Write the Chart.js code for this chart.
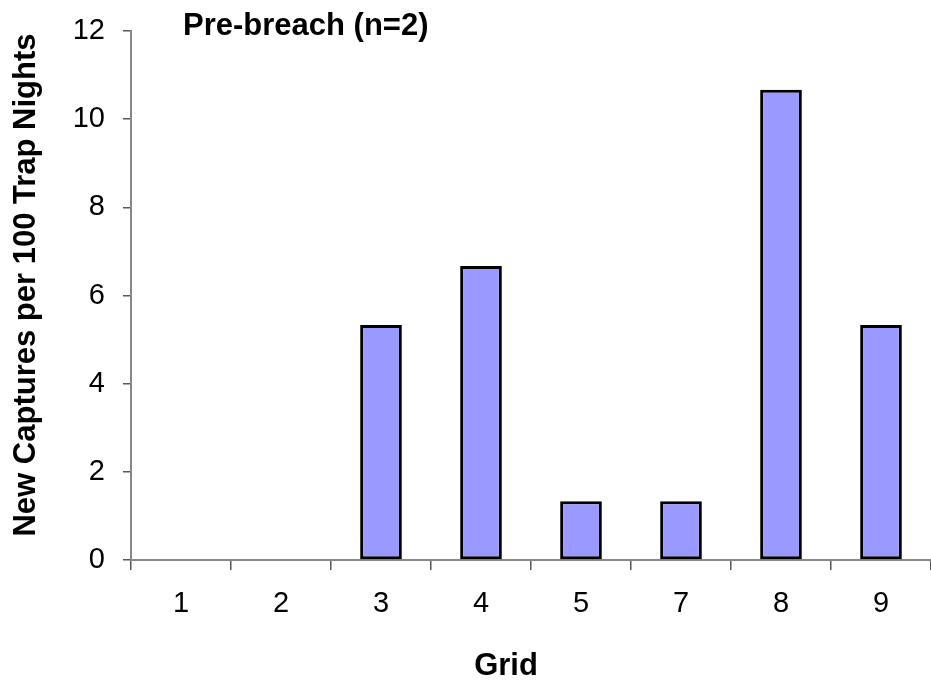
<!DOCTYPE html>
<html>
<head>
<meta charset="utf-8">
<title>Pre-breach (n=2)</title>
<script src="https://cdn.jsdelivr.net/npm/chart.js@4/dist/chart.umd.min.js"></script>
<style>
    html, body { margin: 0; padding: 0; background: #fff; overflow: hidden; }
    #chart-box { width: 931px; height: 681px; }
</style>
</head>
<body>
<div id="chart-box">
    <canvas id="capture-chart" width="931" height="681"></canvas>
</div>
<script>
const gridLabels = ["1", "2", "3", "4", "5", "7", "8", "9"];
const newCaptures = [0, 0, 5.33, 6.67, 1.33, 1.33, 10.67, 5.33];
const yTicks = [0, 2, 4, 6, 8, 10, 12];

const chartTitle = "Pre-breach (n=2)";
const xTitle = "Grid";
const yTitle = "New Captures per 100 Trap Nights";

const fontFamily = "'Liberation Sans', Arial, Helvetica, sans-serif";

// titles are drawn by hand so they can sit where Excel put them
const titlePlugin = {
    id: "titles",
    afterDraw(chart) {
        const ctx = chart.ctx;
        const area = chart.chartArea;
        ctx.save();
        ctx.fillStyle = "#000";
        ctx.font = "bold 31px " + fontFamily;

        ctx.textAlign = "left";
        ctx.textBaseline = "alphabetic";
        ctx.fillText(chartTitle, area.left + 52, 35);

        ctx.textAlign = "center";
        ctx.fillText(xTitle, 506, 675);

        ctx.translate(35, 285);
        ctx.rotate(-Math.PI / 2);
        ctx.fillText(yTitle, 0, 0);
        ctx.restore();
    }
};

const ctx = document.getElementById("capture-chart").getContext("2d");

const chart = new Chart(ctx, {
    type: "bar",
    data: {
        labels: gridLabels,
        datasets: [{
            label: "New captures",
            data: newCaptures,
            backgroundColor: "#9999FF",
            borderColor: "#000000",
            borderWidth: 3,
            borderSkipped: false,
            barPercentage: 0.417,
            categoryPercentage: 1.0
        }]
    },
    options: {
        responsive: false,
        animation: false,
        layout: {
            padding: { top: 31, right: 0, bottom: 0, left: 0 }
        },
        plugins: {
            legend: { display: false },
            tooltip: { enabled: false },
            title: { display: false }
        },
        scales: {
            x: {
                grid: {
                    drawOnChartArea: false,
                    drawTicks: true,
                    tickLength: 10,
                    color: "#555",
                    lineWidth: 1.5
                },
                border: { display: true, color: "#888", width: 2 },
                ticks: {
                    color: "#000",
                    padding: 17,
                    maxRotation: 0,
                    font: { family: fontFamily, size: 29 }
                },
                afterFit(scale) {
                    scale.height = 121;
                }
            },
            y: {
                min: 0,
                max: 12,
                afterBuildTicks(scale) {
                    scale.ticks = yTicks.map(v => ({ value: v }));
                },
                grid: {
                    drawOnChartArea: false,
                    drawTicks: true,
                    tickLength: 8,
                    color: "#555",
                    lineWidth: 1.5
                },
                border: { display: true, color: "#888", width: 2 },
                ticks: {
                    color: "#000",
                    padding: 18,
                    font: { family: fontFamily, size: 29 }
                },
                afterFit(scale) {
                    scale.width = 131;
                    // let the layout padding decide where the plot starts
                    scale.paddingTop = 0;
                    scale.paddingBottom = 0;
                }
            }
        }
    },
    plugins: [titlePlugin]
});
</script>
</body>
</html>
